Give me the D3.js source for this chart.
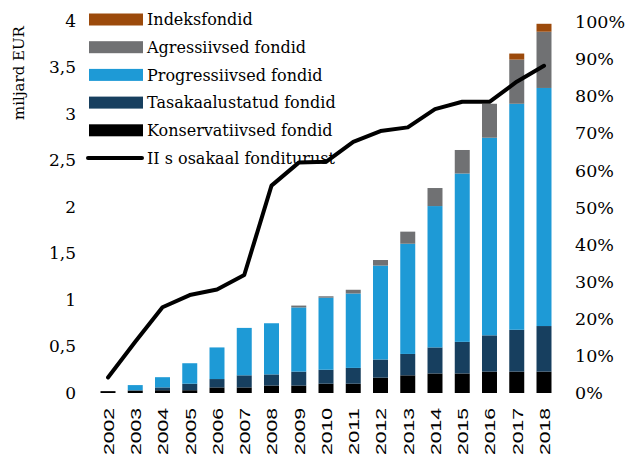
<!DOCTYPE html>
<html><head><meta charset="utf-8">
<script src="https://cdn.jsdelivr.net/npm/d3@7/dist/d3.min.js"></script>
<style>body{margin:0;background:#fff}svg{display:block}</style>
</head><body><svg id="c" width="630" height="458"></svg>
<script>
const years = ["2002","2003","2004","2005","2006","2007","2008","2009","2010","2011","2012","2013","2014","2015","2016","2017","2018"];
const konservatiivsed = [0.02,0.025,0.03,0.03,0.06,0.06,0.08,0.08,0.10,0.10,0.165,0.19,0.21,0.21,0.23,0.23,0.23];
const tasakaalustatud = [0,0.005,0.03,0.07,0.09,0.13,0.12,0.15,0.15,0.17,0.195,0.23,0.28,0.34,0.39,0.45,0.49];
const progressiivsed = [0,0.055,0.11,0.22,0.34,0.51,0.55,0.69,0.775,0.80,1.01,1.185,1.52,1.81,2.125,2.43,2.56];
const agressiivsed = [0,0,0,0,0,0,0,0.02,0.015,0.04,0.06,0.13,0.194,0.253,0.365,0.475,0.605];
const indeksfondid = [0,0,0,0,0,0,0,0,0,0,0,0,0,0,0,0.065,0.085];
const osakaal = [4.2,13.8,23.1,26.4,27.9,31.8,55.9,62.1,62.3,67.7,70.6,71.6,76.5,78.5,78.5,83.9,88.2];
const leftTicks = [0,0.5,1,1.5,2,2.5,3,3.5,4];
const rightTicks = [0,10,20,30,40,50,60,70,80,90,100];

const seriesKeys = ["Konservatiivsed fondid","Tasakaalustatud fondid","Progressiivsed fondid","Agressiivsed fondid","Indeksfondid"];
const seriesVals = [konservatiivsed,tasakaalustatud,progressiivsed,agressiivsed,indeksfondid];
const colors = {"Konservatiivsed fondid":"#000000","Tasakaalustatud fondid":"#173f5f","Progressiivsed fondid":"#1e9ad6","Agressiivsed fondid":"#707173","Indeksfondid":"#9c4a0b"};
const lineLabel = "II s osakaal fonditurust";

const table = years.map((y,i)=>{const o={year:y}; seriesKeys.forEach((k,j)=>o[k]=seriesVals[j][i]); return o;});
const stack = d3.stack().keys(seriesKeys)(table);

const svg = d3.select("#c");
const x = d3.scalePoint().domain(years).range([108,544]);
const bw = x.step()*0.55;
const yL = d3.scaleLinear().domain([0,4]).range([393,21]);
const yR = d3.scaleLinear().domain([0,100]).range([393,22]);
const serif = "DejaVu Serif, Georgia, serif";

// bars
svg.append("g").selectAll("g").data(stack).join("g")
  .attr("fill",d=>colors[d.key])
  .selectAll("rect").data(d=>d).join("rect")
  .attr("x",d=>x(d.data.year)-bw/2)
  .attr("width",bw)
  .attr("y",d=>yL(d[1]))
  .attr("height",d=>Math.max(0,yL(d[0])-yL(d[1])));

// left axis
const gl = svg.append("g").attr("transform","translate(76,0)")
  .call(d3.axisLeft(yL).tickValues(leftTicks).tickSize(0).tickPadding(0).tickFormat(d=>String(d).replace(".",",")));
gl.select(".domain").remove();
gl.selectAll("text").attr("font-family",serif).attr("font-size","17px").attr("fill","#000");

// right axis
const gr = svg.append("g").attr("transform","translate(575,0)")
  .call(d3.axisRight(yR).tickValues(rightTicks).tickSize(0).tickPadding(0).tickFormat(d=>d+"%"));
gr.select(".domain").remove();
gr.selectAll("text").attr("font-family",serif).attr("font-size","17.5px").attr("fill","#000");

// x axis
const gx = svg.append("g").attr("transform","translate(0,408)")
  .call(d3.axisBottom(x).tickSize(0).tickPadding(0));
gx.select(".domain").remove();
gx.selectAll("text")
  .attr("font-family","Liberation Sans, Arial, sans-serif").attr("font-size","15.5px").attr("fill","#000")
  .attr("transform","rotate(-90)").attr("text-anchor","end").attr("x",0).attr("y",0).attr("dy","0.35em")
  .attr("textLength",47).attr("lengthAdjust","spacingAndGlyphs");

// y title
svg.append("text").attr("transform","translate(19,73) rotate(-90)")
  .attr("text-anchor","middle").attr("dy","0.35em")
  .attr("font-family",serif).attr("font-size","15px").text("miljard EUR");

// legend
const legItems = ["Indeksfondid","Agressiivsed fondid","Progressiivsed fondid","Tasakaalustatud fondid","Konservatiivsed fondid"];
const lg = svg.append("g");
legItems.forEach((k,i)=>{
  const cy = 19.5 + i*27.7;
  lg.append("rect").attr("x",89).attr("y",cy-6).attr("width",54).attr("height",12).attr("fill",colors[k]);
  lg.append("text").attr("x",147).attr("y",cy).attr("dy","0.35em").attr("font-family",serif).attr("font-size","16px").text(k);
});
{
  const cy = 19.5 + 5*27.7;
  lg.append("line").attr("x1",88).attr("x2",142).attr("y1",cy).attr("y2",cy).attr("stroke","#000").attr("stroke-width",4).attr("stroke-linecap","round");
  lg.append("text").attr("x",147).attr("y",cy).attr("dy","0.35em").attr("font-family",serif).attr("font-size","16px").text(lineLabel);
}

// line
svg.append("path").datum(osakaal)
  .attr("fill","none").attr("stroke","#000").attr("stroke-width",4).attr("stroke-linejoin","round").attr("stroke-linecap","round")
  .attr("d",d3.line().x((d,i)=>x(years[i])).y(d=>yR(d)));
</script></body></html>
